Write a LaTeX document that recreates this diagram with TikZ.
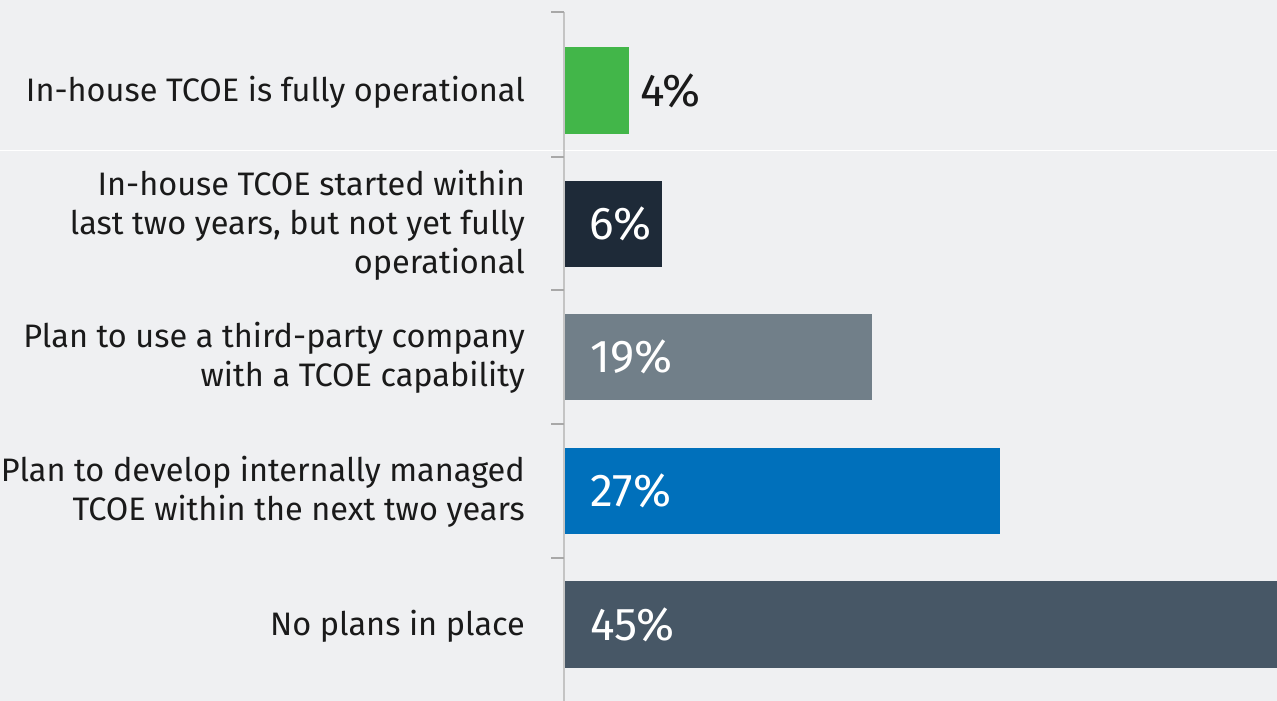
\documentclass[tikz,border=0pt]{standalone}
\usepackage{fontspec}
\setmainfont{Fira Sans}
\definecolor{bg}{HTML}{EFF0F2}
\definecolor{axisc}{HTML}{C4C4C4}
\definecolor{tickc}{HTML}{A8A8A8}
\definecolor{cgreen}{HTML}{42B649}
\definecolor{cnavy}{HTML}{1E2A38}
\definecolor{cgray}{HTML}{717F89}
\definecolor{cblue}{HTML}{0070BB}
\definecolor{cslate}{HTML}{475766}
\definecolor{txt}{HTML}{1A1A1A}
\begin{document}
\begin{tikzpicture}[x=1pt,y=-1pt,
  lab/.style={anchor=east,align=right,text=txt,font=\fontsize{32.5}{39}\selectfont,inner sep=0pt},
  pct/.style={anchor=west,font=\fontsize{46}{46}\selectfont,inner sep=0pt}]
\fill[bg] (0,0) rectangle (1277,701);
\useasboundingbox (0,0) rectangle (1277,701);
\draw[white,line width=0.8pt] (0,150) -- (1277,150);
% bars
\fill[cgreen] (565,47) rectangle (629,134);
\fill[cnavy] (565,181) rectangle (662,267);
\fill[cgray] (565,314) rectangle (872,400);
\fill[cblue] (565,448) rectangle (1000,534);
\fill[cslate] (565,581) rectangle (1277,668);
% axis
\coordinate (atop) at (564,12);
\coordinate (abot) at (564,701);
\draw[axisc,line width=2pt] (atop) -- (abot);
\foreach \y in {12,157,290,424,558}{
  \draw[tickc,line width=2pt] (551,\y) -- (564,\y);
}
% labels
\node[lab] (l1) at (525,92) {In-house TCOE is fully operational};
\node[lab] (l2) at (525,225) {In-house TCOE started within\\last two years, but not yet fully\\operational};
\node[lab] (l3) at (525,358) {Plan to use a third-party company\\with a TCOE capability};
\node[lab] (l4) at (525,492) {Plan to develop internally managed\\TCOE within the next two years};
\node[lab] (l5) at (525,626) {No plans in place};
% percents
\node[pct,text=txt] (p1) at (640,91) {4\%};
\node[pct,text=white] (p2) at (589,224) {6\%};
\node[pct,text=white] (p3) at (590,357) {19\%};
\node[pct,text=white] (p4) at (590,491) {27\%};
\node[pct,text=white] (p5) at (590,625) {45\%};
\end{tikzpicture}
\end{document}
